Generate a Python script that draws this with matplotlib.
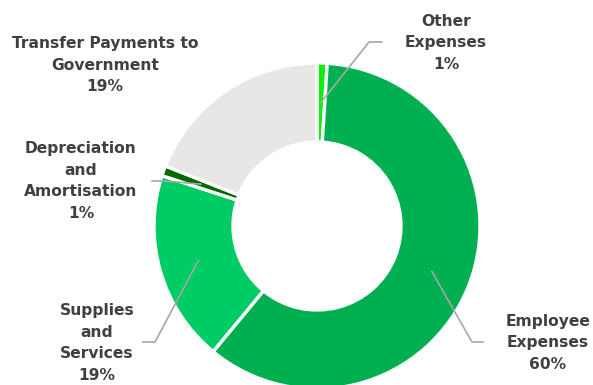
import numpy as np
import matplotlib
matplotlib.use("Agg")
import matplotlib.pyplot as plt

# Expense breakdown (percent of total)
categories = ["Other\nExpenses", "Employee\nExpenses", "Supplies\nand\nServices",
              "Depreciation\nand\nAmortisation", "Transfer Payments to\nGovernment"]
values = [1, 60, 19, 1, 19]
colors = ["#0AF00A", "#00B050", "#00CC66", "#006A00", "#E8E7E6"]

W, H = 593, 385
fig = plt.figure(figsize=(W / 100, H / 100), dpi=100)
ax = fig.add_axes([0, 0, 1, 1])

cx, cy = 317, H - 226
r_out, r_in = 163, 84

wedges, _ = ax.pie(values, colors=colors, startangle=90, counterclock=False,
                   center=(cx, cy), radius=r_out,
                   wedgeprops=dict(width=r_out - r_in, edgecolor="white", linewidth=2.4))
ax.set_xlim(0, W)
ax.set_ylim(0, H)
ax.set_aspect("auto")
ax.axis("off")

text_kw = dict(fontsize=11.2, fontweight="bold", color="#404040",
               ha="center", va="center", linespacing=1.55, family="DejaVu Sans")

# label anchor (pixel coords from top-left) and leader elbow / end points
layout = [
    dict(text=(446, 43), elbow=(369, 42), end=(382, 42)),
    dict(text=(548, 343), elbow=(472, 342), end=(483, 342)),
    dict(text=(97, 343), elbow=(155, 342), end=(143, 342)),
    dict(text=(81, 181), elbow=(165, 181), end=(152, 181)),
    dict(text=(105, 65), elbow=None, end=None),
]

r_mid = (r_out + r_in) / 2
for w, cat, v, lay in zip(wedges, categories, values, layout):
    ang = np.deg2rad((w.theta1 + w.theta2) / 2)
    sx, sy = cx + r_mid * np.cos(ang), cy + r_mid * np.sin(ang)
    if lay["elbow"] is not None:
        ex, ey = lay["elbow"]
        tx, ty = lay["end"]
        ax.plot([sx, ex, tx], [sy, H - ey, H - ty], color="#A6A6A6", lw=1.2,
                solid_joinstyle="miter", zorder=3)
    lx, ly = lay["text"]
    ax.text(lx, H - ly, f"{cat}\n{v}%", **text_kw)

fig.savefig("out.png", dpi=100)
